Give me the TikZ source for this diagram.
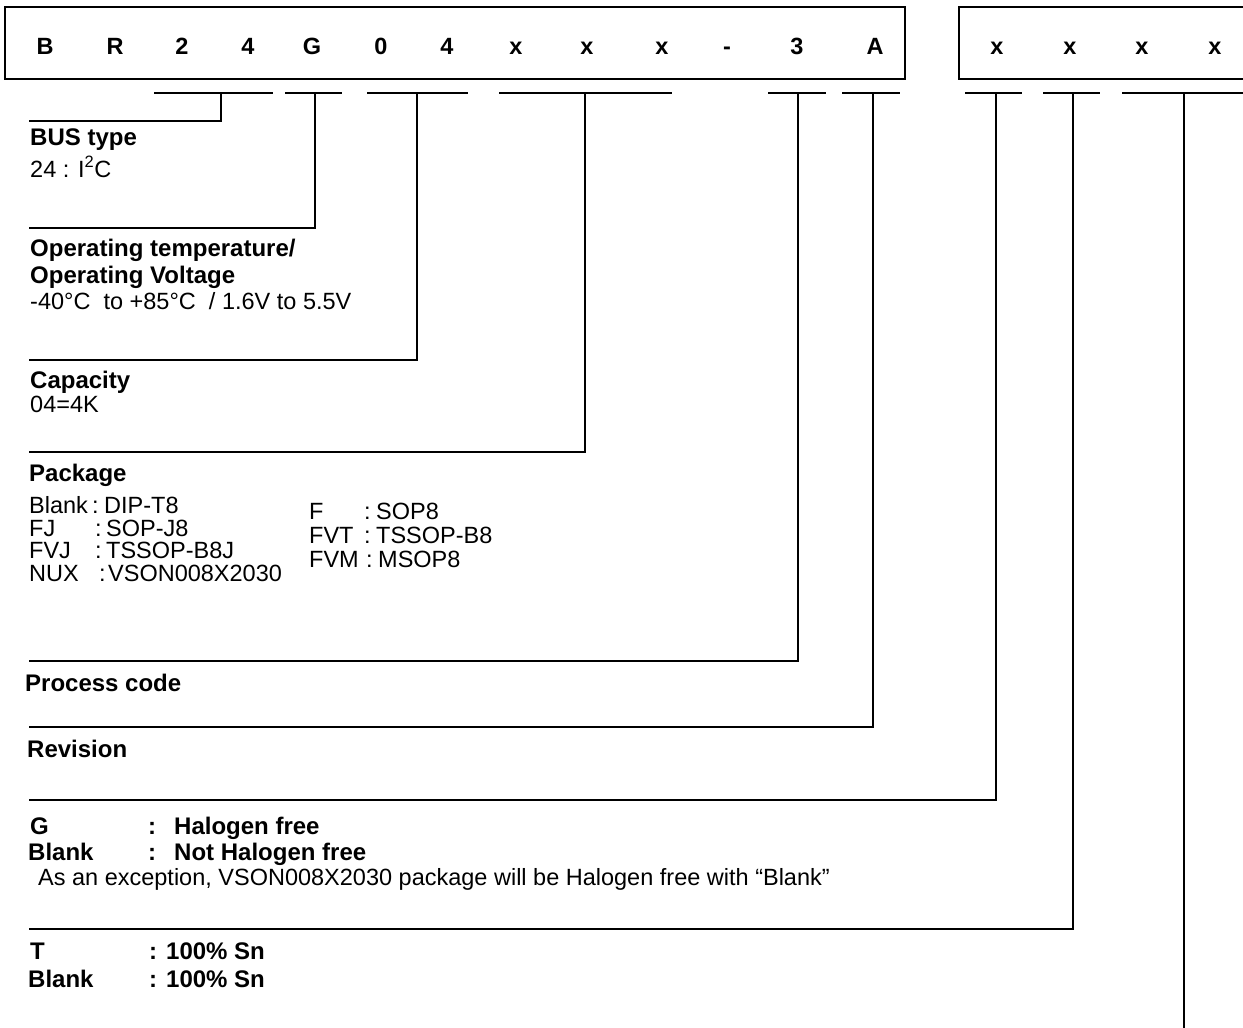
\documentclass[tikz,border=0pt]{standalone}
\usepackage{fontspec}
\setmainfont{Liberation Sans}
\begin{document}
\begin{tikzpicture}[x=1pt,y=-1pt,
  lett/.style={font=\bfseries\fontsize{23.5}{27}\selectfont, inner sep=0pt, anchor=base},
  hd/.style={font=\bfseries\fontsize{24}{28}\selectfont, anchor=base west, inner sep=0pt},
  tx/.style={font=\fontsize{23.5}{27}\selectfont, anchor=base west, inner sep=0pt},
  frame/.style={draw, line width=2.2pt},
  uline/.style={line width=1.5pt},
  lead/.style={line width=1.6pt}]
\useasboundingbox (0,0) rectangle (1243,1028);
\clip (0,0) rectangle (1243,1028);

% code boxes
\draw[frame] (5,7) rectangle (905,79);
\draw[frame] (959,7) rectangle (1270,79);

% code letters
\foreach \x/\t/\n in {45/B/l1,115/R/l2,182/2/l3,248/4/l4,312/G/l5,381/0/l6,447/4/l7,516/x/l8,587/x/l9,662/x/l10,727/-/l11,797/3/l12,875/A/l13,997/x/m1,1070/x/m2,1142/x/m3,1215/x/m4}
  \node[lett] (\n) at (\x,54) {\t};

% underlines under code groups
\coordinate (ua1) at (154,93);  \coordinate (ub1) at (273,93);
\coordinate (ua2) at (285,93);  \coordinate (ub2) at (342,93);
\coordinate (ua3) at (367,93);  \coordinate (ub3) at (468,93);
\coordinate (ua4) at (499,93);  \coordinate (ub4) at (672,93);
\coordinate (ua5) at (768,93);  \coordinate (ub5) at (826,93);
\coordinate (ua6) at (842,93);  \coordinate (ub6) at (900,93);
\coordinate (ua7) at (965,93);  \coordinate (ub7) at (1022,93);
\coordinate (ua8) at (1043,93); \coordinate (ub8) at (1100,93);
\coordinate (ua9) at (1122,93); \coordinate (ub9) at (1260,93);
\foreach \i in {1,...,9} \draw[uline] (ua\i) -- (ub\i);

% ticks (tops on the underlines)
\coordinate (t1) at (221,93);
\coordinate (t2) at (315,93);
\coordinate (t3) at (417,93);
\coordinate (t4) at (585,93);
\coordinate (t5) at (798,93);
\coordinate (t6) at (873,93);
\coordinate (t7) at (996,93);
\coordinate (t8) at (1073,93);
\coordinate (t9) at (1184,93);

% left ends of leader lines
\coordinate (e1) at (29,121);
\coordinate (e2) at (29,228);
\coordinate (e3) at (29,360);
\coordinate (e4) at (29,452);
\coordinate (e5) at (29,661);
\coordinate (e6) at (29,727);
\coordinate (e7) at (29,800);
\coordinate (e8) at (29,929);
\coordinate (e9) at (1184,1040);

\foreach \i in {1,...,8} \draw[lead] (t\i) |- (e\i);
\draw[lead] (t9) -- (e9);

% BUS type
\node[hd] (bus) at (30,145) {BUS type};
\node[tx] (busv) at (30,177) {24 : I\textsuperscript{2}C};

% Operating
\node[hd] (op1) at (30,256) {Operating temperature/};
\node[hd] (op2) at (30,283) {Operating Voltage};
\node[tx] (opv) at (30,309) {-40°C\ \ to +85°C\ \ / 1.6V to 5.5V};

% Capacity
\node[hd] (cap) at (30,388) {Capacity};
\node[tx] (capv) at (30,412) {04=4K};

% Package
\node[hd] (pkg) at (29,481) {Package};
\node[tx] (k1) at (29,513) {Blank};
\node[tx] (c1) at (92,513) {:};
\node[tx] (v1) at (104,513) {DIP-T8};
\node[tx] (k2) at (29,536) {FJ};
\node[tx] (c2) at (95,536) {:};
\node[tx] (v2) at (106,536) {SOP-J8};
\node[tx] (k3) at (29,558) {FVJ};
\node[tx] (c3) at (95,558) {:};
\node[tx] (v3) at (106,558) {TSSOP-B8J};
\node[tx] (k4) at (29,581) {NUX};
\node[tx] (c4) at (99,581) {:};
\node[tx] (v4) at (108,581) {VSON008X2030};
\node[tx] (k5) at (309,519) {F};
\node[tx] (c5) at (364,519) {:};
\node[tx] (v5) at (376,519) {SOP8};
\node[tx] (k6) at (309,543) {FVT};
\node[tx] (c6) at (364,543) {:};
\node[tx] (v6) at (376,543) {TSSOP-B8};
\node[tx] (k7) at (309,567) {FVM};
\node[tx] (c7) at (366,567) {:};
\node[tx] (v7) at (378,567) {MSOP8};

% Process code / Revision
\node[hd] (proc) at (25,691) {Process code};
\node[hd] (rev) at (27,757) {Revision};

% Halogen
\node[hd] (g1) at (30,834) {G};
\node[hd] (g1c) at (148,834) {:};
\node[hd] (g1v) at (174,834) {Halogen free};
\node[hd] (g2) at (28,860) {Blank};
\node[hd] (g2c) at (148,860) {:};
\node[hd] (g2v) at (174,860) {Not Halogen free};
\node[tx] (gnote) at (38,885) {As an exception, VSON008X2030 package will be Halogen free with “Blank”};

% Plating
\node[hd] (s1) at (30,959) {T};
\node[hd] (s1c) at (149,959) {:};
\node[hd] (s1v) at (166,959) {100\% Sn};
\node[hd] (s2) at (28,987) {Blank};
\node[hd] (s2c) at (149,987) {:};
\node[hd] (s2v) at (166,987) {100\% Sn};
\end{tikzpicture}
\end{document}
